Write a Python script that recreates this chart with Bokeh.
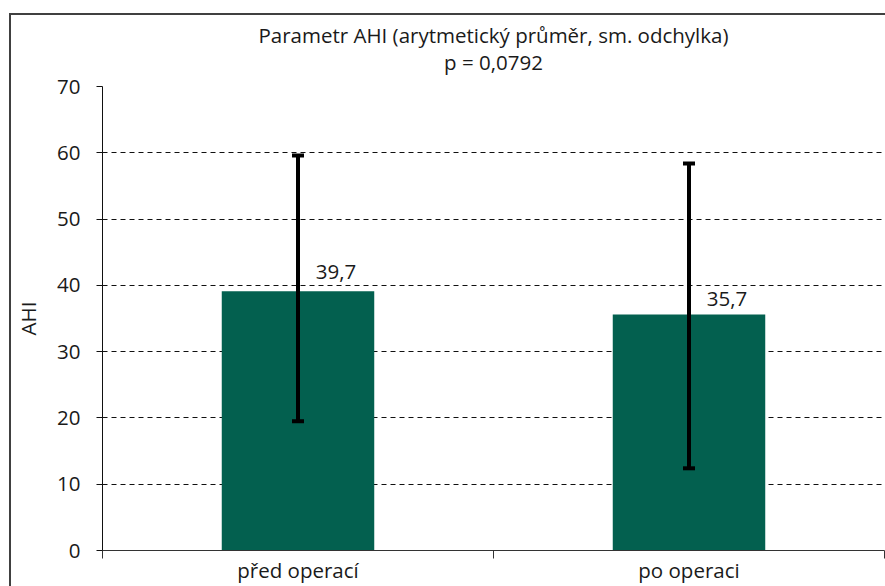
from bokeh.plotting import figure
from bokeh.models import (ColumnDataSource, Range1d, FixedTicker, Whisker, TeeHead, LinearAxis)
from bokeh.core.properties import value
from bokeh.embed import file_html
from bokeh.resources import INLINE

categories = ["před operací", "po operaci"]
bar_values = [39.1, 35.6]
label_values = [39.7, 35.7]
label_texts = ["39,7", "35,7"]
err_lower = [19.5, 12.4]
err_upper = [59.6, 58.4]
y_ticks = [0, 10, 20, 30, 40, 50, 60, 70]
title_main = "Parametr AHI (arytmetický průměr, sm. odchylka)"
title_sub = "p = 0,0792"

FONT = "Open Sans"
FS = "20.5px"
TXT = "#1a1a1a"
BAR = "#03604F"

xs = [i + 0.5 for i in range(len(categories))]
src = ColumnDataSource(dict(x=xs, top=bar_values, lab_y=label_values, lab=label_texts,
                            lo=err_lower, hi=err_upper))

p = figure(width=876, height=573, output_backend="svg", toolbar_location=None,
           x_range=Range1d(0, len(categories)), y_range=Range1d(0, 70),
           min_border_left=90, min_border_right=3, min_border_top=71, min_border_bottom=38,
           margin=(13, 0, 0, 9),
           styles={"border-top": "2px solid #404040", "border-left": "2px solid #404040"})
p.outline_line_color = None
p.background_fill_color = "white"
p.border_fill_color = "white"

p.vbar(x="x", top="top", width=0.39, bottom=0, source=src, fill_color=BAR, line_color=None)

w = Whisker(base="x", lower="lo", upper="hi", source=src, dimension="height",
            line_color="black", line_width=4, level="overlay",
            upper_head=TeeHead(size=12, line_width=4, line_color="black"),
            lower_head=TeeHead(size=12, line_width=4, line_color="black"))
p.add_layout(w)

p.text(x="x", y="lab_y", text="lab", source=src, text_font=value(FONT),
       text_font_size=FS, text_color=TXT, text_align="center",
       text_baseline="alphabetic", x_offset=38, y_offset=-15)

# x axis
p.xaxis.ticker = FixedTicker(ticks=xs, minor_ticks=[0, 1, 2])
p.xaxis.major_label_overrides = {x: c for x, c in zip(xs, categories)}
p.xaxis.major_tick_line_color = None
p.xaxis.major_tick_out = 0
p.xaxis.major_tick_in = 0
p.xaxis.minor_tick_out = 8
p.xaxis.minor_tick_in = 0
p.xaxis.minor_tick_line_color = "#333333"
p.xaxis.axis_line_color = "#333333"
p.xaxis.major_label_text_font = FONT
p.xaxis.major_label_text_font_size = FS
p.xaxis.major_label_text_color = TXT
p.xaxis.major_label_standoff = -3
p.xgrid.grid_line_color = None

# y axis
p.yaxis.ticker = FixedTicker(ticks=y_ticks)
p.yaxis.minor_tick_line_color = None
p.yaxis.major_tick_out = 6
p.yaxis.major_tick_in = 0
p.yaxis.major_tick_line_color = "#111111"
p.yaxis.axis_line_color = "#111111"
p.yaxis.major_label_text_font = FONT
p.yaxis.major_label_text_font_size = FS
p.yaxis.major_label_text_color = TXT
p.yaxis.major_label_standoff = 16
p.yaxis.axis_label = "AHI"
p.yaxis.axis_label_text_font = FONT
p.yaxis.axis_label_text_font_size = FS
p.yaxis.axis_label_text_font_style = "normal"
p.yaxis.axis_label_text_color = TXT
p.yaxis.axis_label_standoff = 12
p.ygrid.grid_line_color = "#111111"
p.ygrid.grid_line_dash = "5 4"
p.ygrid.grid_line_width = 1

# two-line centred title built from an (invisible) axis above the frame
mid = len(categories) / 2
top_axis = LinearAxis(ticker=FixedTicker(ticks=[mid], minor_ticks=[]),
                      major_label_overrides={mid: title_sub},
                      axis_line_color=None, major_tick_line_color=None,
                      minor_tick_line_color=None, major_tick_out=0, major_tick_in=0,
                      minor_tick_out=0, minor_tick_in=0,
                      major_label_text_font=FONT, major_label_text_font_size=FS,
                      major_label_text_color=TXT, major_label_standoff=11,
                      axis_label=title_main, axis_label_text_font=FONT,
                      axis_label_text_font_size=FS, axis_label_text_font_style="normal",
                      axis_label_text_color=TXT, axis_label_standoff=-4)
p.add_layout(top_axis, "above")

open("out.html", "w").write(file_html(p, INLINE))
